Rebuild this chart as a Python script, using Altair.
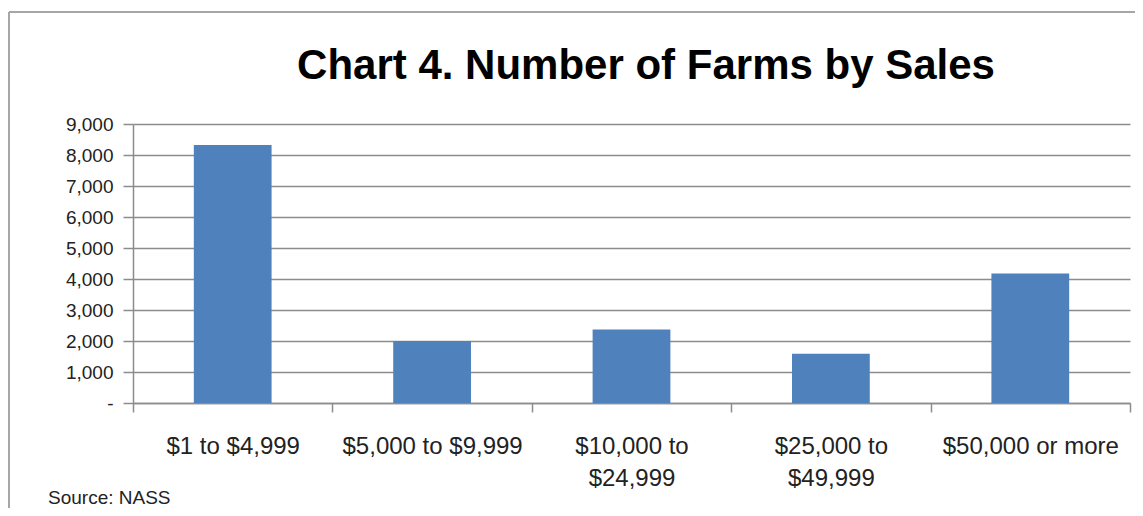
import altair as alt
import pandas as pd

categories = ["$1 to $4,999", "$5,000 to $9,999", "$10,000 to|$24,999", "$25,000 to|$49,999", "$50,000 or more"]
farms = [8320, 2000, 2370, 1590, 4180]
y_ticks = [0, 1000, 2000, 3000, 4000, 5000, 6000, 7000, 8000, 9000]
title_text = "Chart 4.  Number of Farms by Sales"
source_text = "Source: NASS"

df = pd.DataFrame({"sales": categories, "farms": farms})
one = pd.DataFrame({"k": [0]})

FONT = "Liberation Sans"

bars = alt.Chart(df).mark_bar(color="#4f81bd", width={"band": 0.39}).encode(
    x=alt.X("sales:N", sort=categories, title=None,
            scale=alt.Scale(paddingInner=0, paddingOuter=0),
            axis=alt.Axis(labelExpr="split(datum.label, '|')", labelAngle=0,
                          labelFont=FONT, labelFontSize=24, labelColor="#222222",
                          labelLineHeight=32, labelPadding=22, labelBaseline="top",
                          labelLimit=400,
                          tickBand="extent", tickSize=9, tickColor="#8c8c8c",
                          domainColor="#8c8c8c", domainWidth=1.5, tickWidth=1.5,
                          grid=False)),
    y=alt.Y("farms:Q", title=None,
            scale=alt.Scale(domain=[0, 9000], nice=False),
            axis=alt.Axis(values=y_ticks, format=",d",
                          labelExpr="datum.value == 0 ? '-' : datum.label",
                          labelFont=FONT, labelFontSize=19, labelColor="#222222",
                          labelPadding=10, tickSize=10, tickColor="#8c8c8c",
                          tickWidth=1.5, domainColor="#8c8c8c", domainWidth=1.5,
                          grid=True, gridColor="#8c8c8c", gridWidth=1.5)),
)

border_top = alt.Chart(one).mark_rule(color="#a6a6a6", strokeWidth=2).encode(
    x=alt.value(-124), x2=alt.value(1010), y=alt.value(-112))
border_left = alt.Chart(one).mark_rule(color="#a6a6a6", strokeWidth=2).encode(
    x=alt.value(-124), y=alt.value(-112), y2=alt.value(400))

title = alt.Chart(one).mark_text(text=title_text, font=FONT, fontSize=42,
                                 fontWeight="bold", align="center",
                                 baseline="alphabetic", color="#000000").encode(
    x=alt.value(513), y=alt.value(-45))

source = alt.Chart(one).mark_text(text=source_text, font=FONT, fontSize=19,
                                  align="left", baseline="alphabetic",
                                  color="#222222").encode(
    x=alt.value(-85), y=alt.value(380))

chart = alt.layer(border_top, border_left, bars, title, source).properties(
    width=997, height=279,
    autosize=alt.AutoSizeParams(type="none"),
    padding={"left": 125, "top": 116, "right": 5, "bottom": 105},
).configure_view(stroke=None)

chart.save("out.html", embed_options={"renderer": "svg", "actions": False})
